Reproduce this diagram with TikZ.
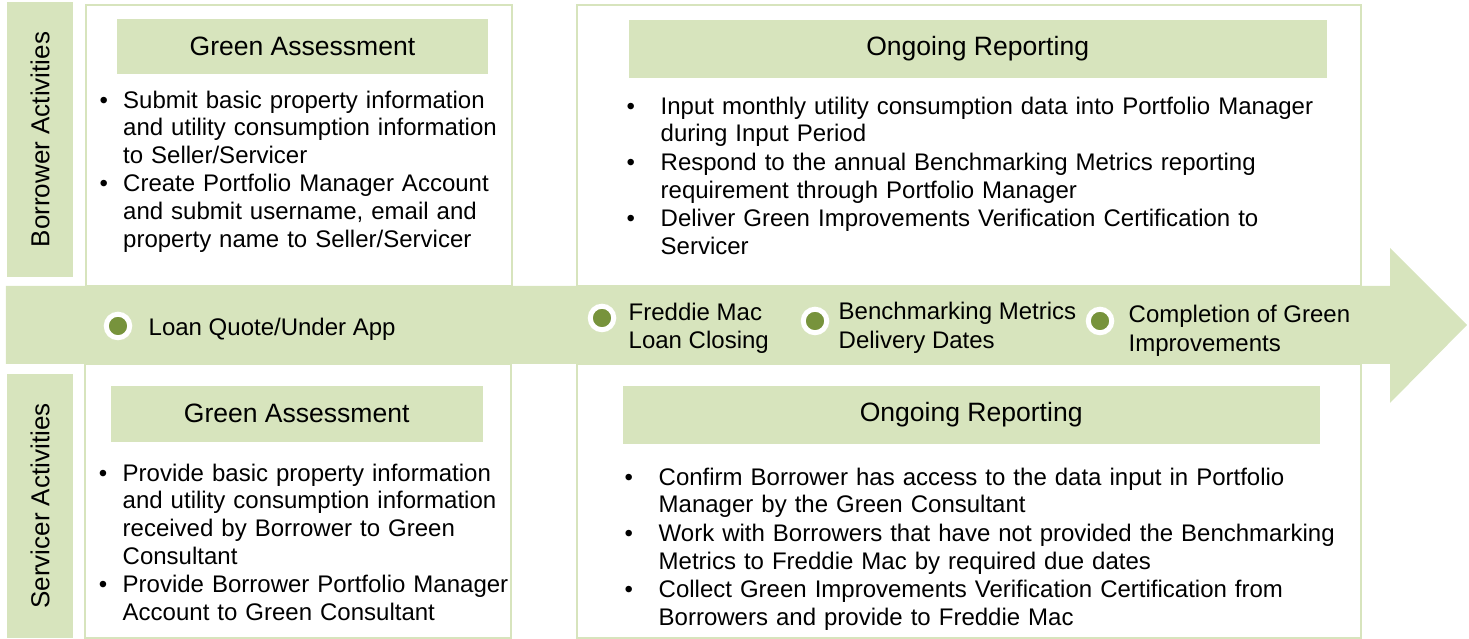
\documentclass[tikz,border=0pt]{standalone}
\usepackage{fontspec}
\setmainfont{Liberation Sans}
\usepackage{enumitem}
\definecolor{leaf}{HTML}{D7E4BD}
\definecolor{olive}{HTML}{77933C}
\newlist{leftitems}{itemize}{1}
\setlist[leftitems]{label=\textbullet,leftmargin=0.3cm,labelsep=0.153cm,itemsep=0pt,parsep=0pt,topsep=0pt,partopsep=0pt}
\newlist{rightitems}{itemize}{1}
\setlist[rightitems]{label=\textbullet,leftmargin=0.3cm,labelsep=0.258cm,itemsep=0.005cm,parsep=0pt,topsep=0pt,partopsep=0pt}
\tikzset{
  sidelabel/.style={fill=leaf,rotate=90,inner sep=0pt,minimum height=0.66cm,font=\fontsize{7.4}{8.6}\selectfont},
  panel/.style={draw=leaf,fill=white,line width=0.02cm,anchor=north west,inner sep=0pt},
  head/.style={fill=leaf,anchor=north west,inner sep=0pt,font=\fontsize{7.55}{8.8}\selectfont},
  body/.style={anchor=north west,inner sep=0pt,text width=#1,align=left,font=\fontsize{6.83}{7.91}\selectfont},
  dot/.style={circle,fill=olive,draw=white,line width=0.05cm,minimum size=0.235cm,inner sep=0pt},
  stone/.style={anchor=west,inner sep=0pt,align=left,font=\fontsize{6.83}{8.1}\selectfont}
}

\begin{document}
\begin{tikzpicture}[x=1cm,y=1cm]
\path[use as bounding box] (0,0) rectangle (14.69,6.39);

% borrower side
\node[panel,minimum width=4.26cm,minimum height=2.81cm] (borAssess) at (0.85,6.35) {};
\node[panel,minimum width=7.84cm,minimum height=2.81cm] (borReport) at (5.76,6.35) {};
\node[head,minimum width=3.715cm,minimum height=0.55cm] (borAssessHead) at (1.16,6.21) {Green Assessment};
\node[head,minimum width=6.98cm,minimum height=0.58cm] (borReportHead) at (6.28,6.20) {Ongoing Reporting};
\node[body=4.6cm] (borAssessList) at (0.925,5.593) {\begin{leftitems}
\item Submit basic property information\\ and utility consumption information\\ to Seller/Servicer
\item Create Portfolio Manager Account\\ and submit username, email and\\ property name to Seller/Servicer
\end{leftitems}};
\node[body=7.3cm] (borReportList) at (6.30,5.533) {\begin{rightitems}
\item Input monthly utility consumption data into Portfolio Manager\\ during Input Period
\item Respond to the annual Benchmarking Metrics reporting\\ requirement through Portfolio Manager
\item Deliver Green Improvements Verification Certification to\\ Servicer
\end{rightitems}};
\node[sidelabel,minimum width=2.75cm] (borLabel) at (0.40,4.995) {Borrower Activities};

% servicer side
\node[panel,minimum width=4.26cm,minimum height=2.74cm] (serAssess) at (0.84,2.76) {};
\node[panel,minimum width=7.84cm,minimum height=2.74cm] (serReport) at (5.76,2.76) {};
\node[head,minimum width=3.72cm,minimum height=0.56cm] (serAssessHead) at (1.10,2.54) {Green Assessment};
\node[head,minimum width=6.97cm,minimum height=0.58cm] (serReportHead) at (6.22,2.54) {Ongoing Reporting};
\node[body=4.6cm] (serAssessList) at (0.92,1.863) {\begin{leftitems}
\item Provide basic property information\\ and utility consumption information\\ received by Borrower to Green\\ Consultant
\item Provide Borrower Portfolio Manager\\ Account to Green Consultant
\end{leftitems}};
\node[body=7.3cm] (serReportList) at (6.28,1.823) {\begin{rightitems}
\item Confirm Borrower has access to the data input in Portfolio\\ Manager by the Green Consultant
\item Work with Borrowers that have not provided the Benchmarking\\ Metrics to Freddie Mac by required due dates
\item Collect Green Improvements Verification Certification from\\ Borrowers and provide to Freddie Mac
\end{rightitems}};
\node[sidelabel,minimum width=2.64cm] (serLabel) at (0.40,1.33) {Servicer Activities};

% timeline
\fill[leaf] (0.06,3.53) -- (13.90,3.53) -- (13.90,3.91) -- (14.67,3.14) -- (13.90,2.36) -- (13.90,2.75) -- (0.06,2.75) -- cycle;
\node[dot] (quoteDot) at (1.18,3.13) {};
\node[stone] (quoteText) at (1.48,3.10) {Loan Quote/Under App};
\node[dot] (closeDot) at (6.02,3.21) {};
\node[stone] (closeText) at (6.28,3.105) {Freddie Mac\\Loan Closing};
\node[dot] (metricDot) at (8.15,3.18) {};
\node[stone] (metricText) at (8.38,3.11) {Benchmarking Metrics\\Delivery Dates};
\node[dot] (doneDot) at (11.00,3.18) {};
\node[stone] (doneText) at (11.28,3.08) {Completion of Green\\Improvements};
\end{tikzpicture}
\end{document}
